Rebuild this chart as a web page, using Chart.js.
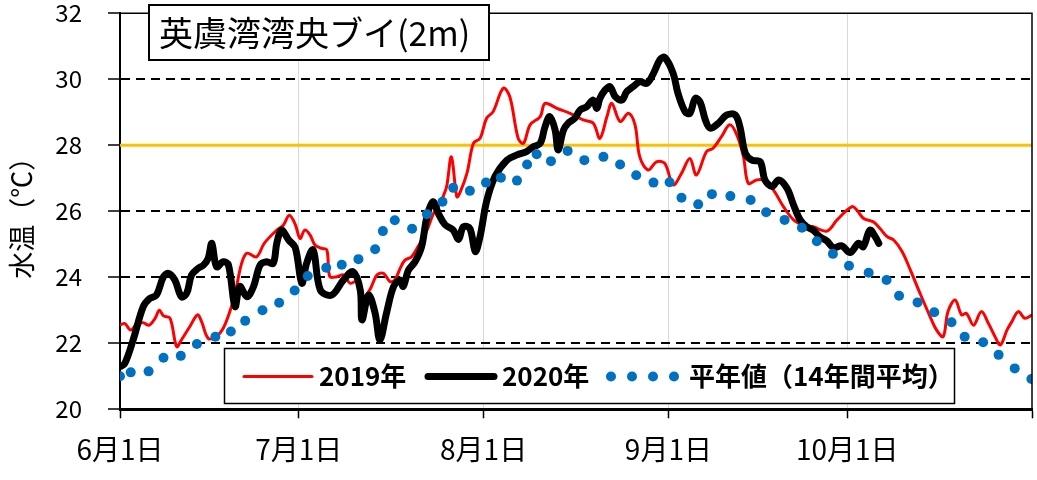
<!DOCTYPE html>
<html>
<head>
<meta charset="utf-8">
<script src="https://cdn.jsdelivr.net/npm/chart.js@4/dist/chart.umd.min.js"></script>
<style>
  html, body { margin: 0; padding: 0; background: #fff; }
  #chart { display: block; }
</style>
</head>
<body>
<canvas id="chart" width="1037" height="480"></canvas>
<script>
// ---------------------------------------------
// DATA (days counted from 6/1, water temp in °C)
// ---------------------------------------------

const DAY_MAX = 153;
const monthTicks = [0, 30, 61, 92, 122, 153];
const monthLabels = ["6月1日", "7月1日", "8月1日", "9月1日", "10月1日", ""];
const threshold = 28;

const days2019 = [0, 0.8, 1.8, 2.8, 3.9, 4.9, 5.9, 6.6, 7.3, 8.4, 9.5, 10.3, 11.7, 13.0, 13.7, 14.8, 16.1, 17.3, 18.5, 19.3,
  20.4, 21.3, 22.9, 24.2, 26.3, 27.4, 28.4, 29.4, 30.2, 31.0, 31.9, 32.7, 33.8, 34.7, 35.2, 36.4, 37.5, 38.6, 39.7, 40.8,
  41.9, 43.1, 44.2, 45.3, 46.1, 47.0, 47.8, 48.9, 50.0, 51.5, 52.6, 53.4, 54.3, 54.8, 55.6, 56.5, 57.0, 58.2, 59.3, 60.4,
  61.5, 62.6, 64.3, 65.4, 66.8, 67.7, 68.8, 70.5, 71.3, 73.3, 75.5, 77.7, 79.4, 80.5, 81.7, 82.5, 83.9, 85.3, 86.4, 87.2,
  88.6, 90.0, 91.4, 92.8, 94.2, 95.6, 96.7, 98.4, 99.5, 100.9, 102.3, 103.5, 104.6, 105.4, 106.8, 107.9, 109.6, 111.3, 113.0, 114.7,
  116.3, 118.6, 120.3, 122.8, 123.6, 124.7, 126.4, 127.5, 128.7, 129.8, 131.2, 132.6, 134.2, 135.9, 137.0, 138.1, 138.9, 140.1, 141.2, 142.0,
  143.2, 144.5, 145.7, 146.8, 147.7, 148.8, 149.6, 150.7, 151.8, 153];
const temp2019 = [22.55, 22.6, 22.4, 22.58, 22.62, 22.55, 22.76, 23.0, 22.83, 22.76, 21.9, 22.1, 22.5, 22.86, 22.65, 22.15, 22.2, 22.45, 23.0, 23.5,
  24.42, 24.73, 24.62, 25.03, 25.43, 25.58, 25.88, 25.6, 25.18, 25.43, 25.28, 24.98, 24.88, 24.83, 24.02, 24.02, 24.07, 23.82, 23.87, 23.41,
  23.62, 24.07, 24.12, 23.87, 23.92, 24.27, 24.52, 24.62, 24.93, 25.43, 25.94, 26.14, 26.49, 26.75, 27.65, 26.44, 26.55, 27.15, 28.06, 28.21,
  28.82, 29.02, 29.73, 29.47, 28.21, 28.06, 28.62, 28.87, 29.27, 29.12, 28.97, 28.77, 28.67, 28.21, 28.87, 29.27, 28.72, 28.97, 28.62, 27.65,
  27.25, 27.5, 27.45, 26.8, 27.15, 27.6, 27.1, 27.81, 27.91, 28.26, 28.62, 28.31, 27.65, 26.85, 26.95, 26.95, 26.65, 26.14, 25.74, 25.58,
  25.53, 25.4, 25.74, 26.14, 26.04, 25.79, 25.68, 25.48, 25.23, 25.13, 24.78, 24.22, 23.52, 22.81, 22.4, 22.2, 22.96, 23.31, 22.86, 22.91,
  22.55, 22.96, 22.6, 22.2, 21.95, 22.4, 22.65, 22.96, 22.76, 22.86];

const days2020 = [0, 0.8, 2.2, 3.9, 5.0, 6.1, 7.3, 8.1, 9.2, 10.3, 11.2, 12.0, 13.1, 14.0, 14.8, 15.4, 16.2, 17.3, 18.2, 19.3,
  20.1, 21.3, 22.4, 23.5, 24.6, 25.7, 26.3, 27.1, 28.3, 29.4, 30.5, 31.3, 32.4, 33.6, 35.5, 37.5, 39.1, 40.3, 40.6, 41.7,
  42.8, 43.6, 44.7, 45.9, 47.0, 47.5, 48.4, 49.5, 50.6, 51.5, 52.5, 53.4, 54.5, 55.9, 56.8, 57.6, 58.7, 59.6, 60.4, 61.5,
  62.9, 64.9, 66.6, 68.2, 69.4, 70.5, 71.3, 72.1, 73.0, 73.5, 74.4, 75.2, 76.3, 77.2, 78.3, 79.4, 80.0, 80.5, 81.4, 82.2,
  83.1, 84.2, 85.0, 86.1, 87.2, 88.4, 89.5, 90.6, 91.4, 92.8, 93.6, 94.8, 95.6, 96.5, 97.3, 98.2, 99.0, 100.4, 101.8, 103.2,
  104.0, 104.9, 106.0, 107.4, 108.2, 109.4, 110.5, 111.9, 113.0, 114.1, 115.2, 116.3, 117.4, 118.6, 119.7, 121.1, 122.5, 123.9, 124.7, 125.8,
  126.7, 127.3];
const temp2020 = [21.29, 21.39, 22.1, 23.11, 23.36, 23.46, 24.02, 24.12, 23.92, 23.41, 23.52, 24.07, 24.27, 24.37, 24.58, 25.03, 24.32, 24.47, 24.37, 23.11,
  23.72, 23.41, 23.72, 24.37, 24.47, 24.42, 25.03, 25.43, 25.13, 24.9, 23.82, 24.42, 24.83, 23.62, 23.46, 23.92, 24.17, 23.62, 22.71, 23.46,
  22.91, 22.1, 22.91, 23.72, 23.92, 23.72, 24.22, 24.47, 24.93, 25.84, 26.29, 25.94, 25.6, 25.43, 25.15, 25.53, 25.48, 24.78, 25.23, 26.3,
  27.05, 27.55, 27.71, 27.81, 27.96, 28.06, 28.56, 28.87, 28.46, 27.86, 28.46, 28.67, 28.82, 29.07, 29.17, 29.37, 29.12, 29.42, 29.68, 29.78,
  29.47, 29.37, 29.62, 29.78, 29.93, 29.88, 30.18, 30.6, 30.66, 30.18, 29.58, 29.02, 28.97, 29.42, 29.32, 28.77, 28.52, 28.67, 28.92, 28.92,
  28.56, 27.76, 27.55, 27.5, 26.95, 26.75, 26.95, 26.7, 26.19, 25.74, 25.53, 25.43, 25.23, 25.1, 24.9, 24.95, 24.75, 25.03, 24.93, 25.43,
  25.23, 25.03];

const daysAvg = [0, 1.8, 4.8, 7.3, 10.2, 12.9, 16.0, 18.6, 21.0, 23.9, 26.7, 29.3, 31.5, 34.6, 37.2, 40.0, 42.8, 44.1, 46.1, 49.0,
  51.5, 54.1, 55.9, 58.7, 61.4, 63.9, 66.6, 68.3, 69.9, 72.3, 75.1, 77.9, 81.1, 83.9, 86.6, 89.5, 92.2, 94.2, 97.0, 99.3,
  102.4, 105.8, 108.4, 111.5, 114.4, 116.9, 119.6, 122.3, 125.6, 128.6, 130.7, 133.8, 136.6, 139.5, 141.7, 144.8, 147.4, 150.1, 152.9];
const tempAvg = [21.0, 21.12, 21.15, 21.56, 21.62, 21.98, 22.2, 22.36, 22.68, 23.0, 23.23, 23.6, 24.04, 24.29, 24.38, 24.55, 24.85, 25.4, 25.73, 25.47,
  25.91, 26.29, 26.71, 26.62, 26.87, 27.02, 26.93, 27.42, 27.73, 27.52, 27.83, 27.55, 27.65, 27.42, 27.09, 26.87, 26.88, 26.41, 26.21, 26.52,
  26.46, 26.34, 25.97, 25.74, 25.5, 25.09, 24.71, 24.35, 24.14, 23.92, 23.44, 23.24, 22.94, 22.64, 22.2, 22.03, 21.65, 21.24, 20.92];

// ---------------------------------------------
// helpers / plugins
// ---------------------------------------------

const FONT = '"Noto Sans CJK JP", "Noto Sans", sans-serif';
const RED = "#ff0000", BLACK = "#000000", BLUE = "#0070c0", ORANGE = "#ffc000";

function pts(xs, ys) { return xs.map((x, i) => ({ x: x, y: ys[i] })); }

const paper = {
  id: "paper",
  beforeDraw(chart) {
    const c = chart.ctx;
    c.save();
    c.fillStyle = "#fff";
    c.fillRect(0, 0, chart.width, chart.height);
    c.restore();
  }
};

// pin the plot area to where the reference has it
const pinArea = {
  id: "pinArea",
  afterLayout(chart) {
    const a = chart.chartArea;
    a.top = 13.3; a.bottom = 409.3; a.left = 120; a.right = 1032;
    a.width = a.right - a.left; a.height = a.bottom - a.top;
    const x = chart.scales.x, y = chart.scales.y;
    x.left = a.left; x.right = a.right; x.width = a.width;
    x.top = a.bottom; x.bottom = 480; x.height = x.bottom - x.top;
    y.top = a.top; y.bottom = a.bottom; y.height = a.height;
    y.left = 0; y.right = a.left; y.width = a.left;
    x.configure(); y.configure();
  }
};

const overlay = {
  id: "overlay",
  afterDraw(chart) {
    const c = chart.ctx, a = chart.chartArea;
    c.save();

    // top + right frame
    c.strokeStyle = BLACK;
    c.lineWidth = 1.5;
    c.beginPath();
    c.moveTo(a.left, a.top);
    c.lineTo(a.right, a.top);
    c.lineTo(a.right, a.bottom);
    c.stroke();

    // legend box
    c.fillStyle = "#fff";
    c.fillRect(224.5, 348.5, 730, 55);
    c.lineWidth = 1.5;
    c.strokeRect(224.5, 348.5, 730, 55);

    const ly = 376.5;
    c.lineCap = "round";
    c.strokeStyle = RED; c.lineWidth = 3;
    c.beginPath(); c.moveTo(244, ly); c.lineTo(312, ly); c.stroke();
    c.strokeStyle = BLACK; c.lineWidth = 7;
    c.beginPath(); c.moveTo(428, ly); c.lineTo(494, ly); c.stroke();
    c.fillStyle = BLUE;
    [611, 632, 653, 674].forEach(x => { c.beginPath(); c.arc(x, ly, 5, 0, Math.PI * 2); c.fill(); });

    c.fillStyle = BLACK;
    c.font = "bold 26px " + FONT;
    c.textBaseline = "middle";
    c.textAlign = "left";
    c.fillText("2019年", 319, ly);
    c.fillText("2020年", 502, ly);
    c.fillText("平年値（14年間平均）", 689, ly);

    // title box
    c.fillStyle = "#fff";
    c.fillRect(149, 5, 340, 55);
    c.strokeStyle = BLACK; c.lineWidth = 2;
    c.strokeRect(149, 5, 340, 55);
    c.fillStyle = BLACK;
    c.font = "34px " + FONT;
    c.fillText("英虞湾湾央ブイ(2m)", 159, 33);

    c.restore();
  }
};

new Chart(document.getElementById("chart"), {
  type: "line",
  data: {
    datasets: [
      {
        label: "平年値（14年間平均）",
        data: pts(daysAvg, tempAvg),
        showLine: false,
        pointRadius: 5,
        pointBorderWidth: 0,
        pointBackgroundColor: BLUE,
        pointBorderColor: BLUE,
        clip: 0,
        order: 0
      },
      {
        label: "2020年",
        data: pts(days2020, temp2020),
        borderColor: BLACK,
        borderWidth: 7,
        pointRadius: 0,
        tension: 0.35,
        borderJoinStyle: "round",
        borderCapStyle: "round",
        order: 1
      },
      {
        label: "2019年",
        data: pts(days2019, temp2019),
        borderColor: RED,
        borderWidth: 3,
        pointRadius: 0,
        tension: 0.35,
        borderJoinStyle: "round",
        order: 2
      },
      {
        label: "28℃",
        data: [{ x: 0, y: threshold }, { x: DAY_MAX, y: threshold }],
        borderColor: ORANGE,
        borderWidth: 3,
        pointRadius: 0,
        order: 3
      }
    ]
  },
  options: {
    responsive: false,
    animation: false,
    devicePixelRatio: 1,
    layout: { padding: { top: 13, right: 5, left: 0, bottom: 0 } },
    plugins: { legend: { display: false }, tooltip: { enabled: false } },
    scales: {
      x: {
        type: "linear",
        min: 0,
        max: DAY_MAX,
        afterBuildTicks: s => { s.ticks = monthTicks.map(v => ({ value: v })); },
        ticks: {
          autoSkip: false,
          maxRotation: 0,
          padding: 14,
          color: BLACK,
          font: { family: FONT, size: 28 },
          callback: v => monthLabels[monthTicks.indexOf(v)]
        },
        grid: {
          color: ctx => (ctx.tick && ctx.tick.value > 0 && ctx.tick.value < DAY_MAX) ? "#d9d9d9" : "rgba(0,0,0,0)",
          lineWidth: 1,
          tickColor: BLACK,
          tickLength: 9,
          tickWidth: 1.5
        },
        border: { color: BLACK, width: 3 }
      },
      y: {
        min: 20,
        max: 32,
        ticks: {
          stepSize: 2,
          padding: 26,
          color: BLACK,
          font: { family: FONT, size: 24 }
        },
        grid: {
          color: ctx => (ctx.tick && ctx.tick.value > 20 && ctx.tick.value < 32) ? BLACK : "rgba(0,0,0,0)",
          lineWidth: 2,
          tickColor: BLACK,
          tickLength: 12,
          tickWidth: 1.5
        },
        border: { color: BLACK, width: 2, dash: [9, 6] },
        title: {
          display: true,
          text: "水温（℃）",
          color: BLACK,
          font: { family: FONT, size: 27 },
          padding: { top: 6, bottom: 0 }
        }
      }
    }
  },
  plugins: [paper, pinArea, overlay]
});
</script>
</body>
</html>
